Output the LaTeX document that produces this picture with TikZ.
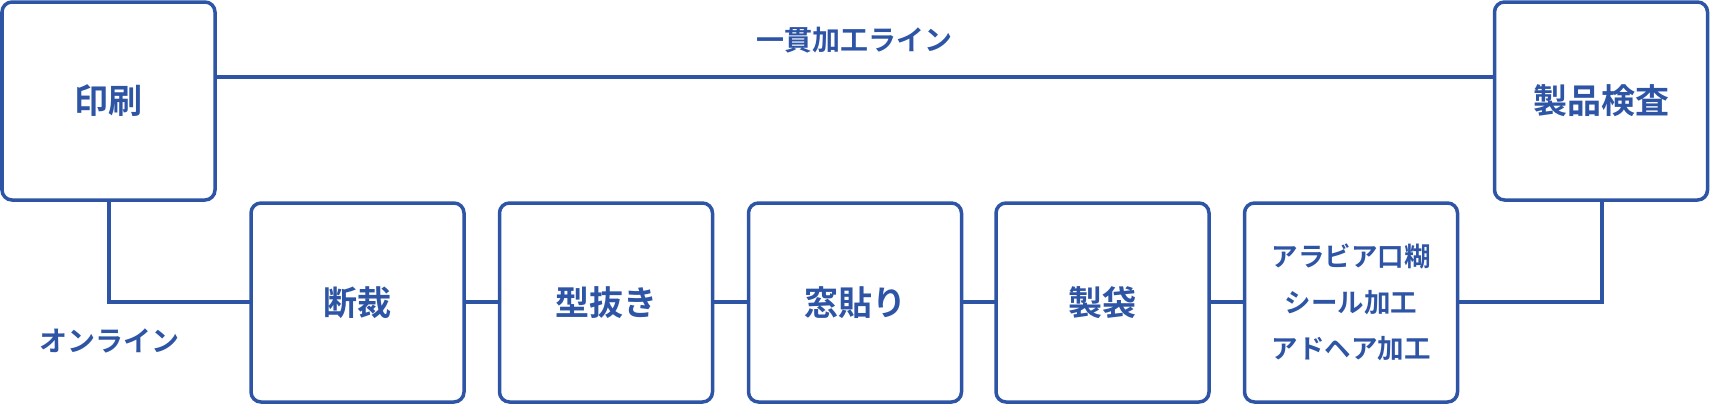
\documentclass[tikz,border=0pt]{standalone}
\usepackage{fontspec}
\newfontfamily\jp{Noto Sans CJK JP}[BoldFont=* Bold]
\definecolor{bl}{HTML}{2E55A5}
\begin{document}
\begin{tikzpicture}[x=1pt,y=-1pt,
 bx/.style={draw=bl,line width=3.5pt,rounded corners=10pt,fill=white,align=center,text=bl,font=\jp\bfseries\fontsize{34}{40}\selectfont},
 ln/.style={draw=bl,line width=3.5pt},
 lb/.style={text=bl,font=\jp\bfseries\fontsize{28}{30}\selectfont}]
\useasboundingbox (0,0) rectangle (1710,405);
\draw[ln] (109,77) -- (1600,77);
\draw[ln] (109,150) |- (300,302) -- (1500,302) -| (1602,150);
\node[bx,minimum width=213pt,minimum height=198pt] (a) at (108.5,101) {印刷};
\node[bx,minimum width=213pt,minimum height=198pt] (z) at (1601,101) {製品検査};
\foreach \n/\x/\t in {b/357.5/断裁,c/606/型抜き,d/855/窓貼り,e/1102.5/製袋}
 \node[bx,minimum width=213pt,minimum height=199pt] (\n) at (\x,302.5) {\t};
\node[bx,minimum width=213pt,minimum height=199pt,font=\jp\bfseries\fontsize{26.5}{46}\selectfont] (f) at (1351,302.5) {アラビア口糊\\シール加工\\アドヘア加工};
\node[lb] (t1) at (854,40) {一貫加工ライン};
\node[lb] (t2) at (109,341) {オンライン};
\end{tikzpicture}
\end{document}
